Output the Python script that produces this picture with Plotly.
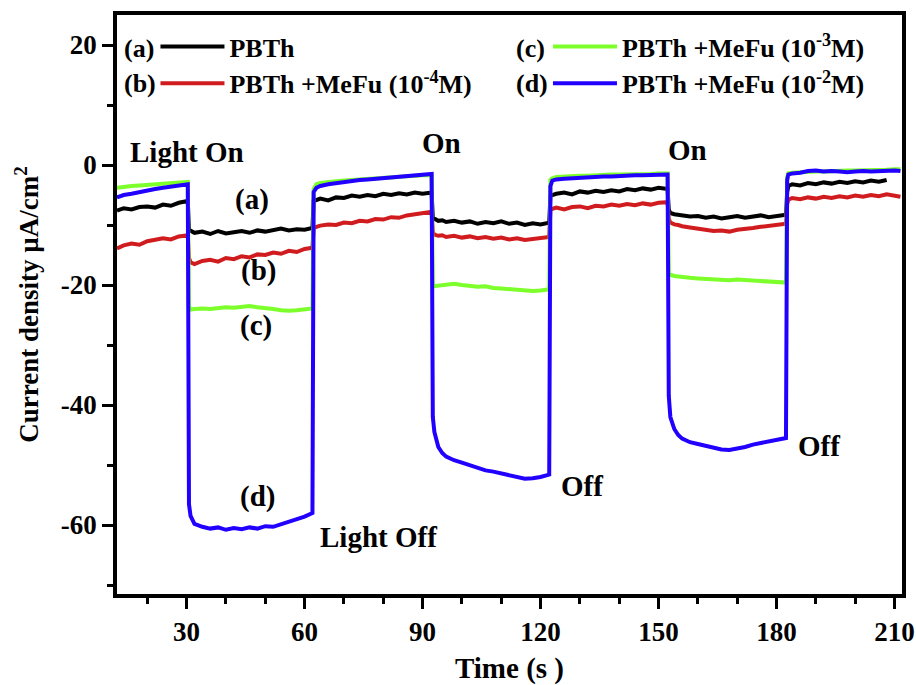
import plotly.graph_objects as go

# ---- data ----
time_s = [12.3, 14, 16, 18, 20, 22, 24, 26, 28, 30.3,
          30.6,
          31, 32, 34, 36, 38, 40, 42, 44, 46, 48, 50, 52, 54, 56, 58, 60, 62.0,
          62.3,
          63, 64, 66, 68, 70, 72, 74, 76, 78, 80, 82, 84, 86, 88, 90, 92.3,
          92.6,
          93, 94, 95, 96, 98, 100, 102, 104, 106, 108, 110, 112, 114, 116, 118, 120, 122.2,
          122.5,
          123, 124, 126, 128, 130, 132, 134, 136, 138, 140, 142, 144, 146, 148, 150, 152.3,
          152.6,
          153, 154, 155, 156, 158, 160, 162, 164, 166, 168, 170, 172, 174, 176, 178, 180, 182.4,
          182.7,
          183, 184, 186, 188, 190, 192, 194, 196, 198, 200, 202, 204, 206, 208, 210, 211.5]

pbth = [-7.6, -7.2, -7.4, -7.0, -6.9, -7.1, -6.6, -6.8, -6.3, -6.0,
        -10.8,
        -11.0, -11.3, -11.1, -11.5, -11.0, -11.4, -11.2, -11.0, -11.3, -10.9, -11.1, -10.8, -10.6, -10.9, -10.7, -10.8, -10.5,
        -6.0,
        -5.8, -5.6, -5.9, -5.4, -5.5, -5.1, -5.3, -5.0, -5.2, -4.8, -5.0, -4.7, -4.9, -4.6, -4.8, -4.6,
        -8.8,
        -9.0, -9.3, -9.2, -9.5, -9.3, -9.6, -9.4, -9.8, -9.5, -9.7, -9.4, -9.8, -9.6, -10.0, -9.7, -9.9, -9.6,
        -5.2,
        -5.0, -4.8, -4.6, -4.9, -4.4, -4.6, -4.3, -4.5, -4.2, -4.4, -4.0, -4.2, -3.9, -4.1, -3.8, -4.0,
        -7.5,
        -8.0, -8.2, -8.3, -8.4, -8.6, -8.5, -8.8, -8.6, -8.9, -8.7, -8.5, -8.8, -8.6, -8.4, -8.7, -8.5, -8.3,
        -4.5,
        -3.5, -3.2, -3.4, -3.0, -3.2, -2.9, -3.1, -2.8, -3.0, -2.7, -2.9, -2.6, -2.8, -2.5, None, None]

mefu_1e4 = [-13.9, -13.4, -13.1, -13.3, -12.7, -12.5, -12.2, -12.4, -11.9, -11.7,
            -15.5,
            -16.2, -16.5, -16.0, -15.8, -16.1, -15.5, -15.7, -15.2, -15.4, -14.9, -15.0, -14.6, -14.8, -14.3, -14.5, -14.0, -13.8,
            -10.5,
            -10.3, -10.1, -9.9, -10.0, -9.6, -9.7, -9.3, -9.4, -9.0, -9.1, -8.7, -8.8, -8.4, -8.2, -8.0, -7.8,
            -11.2,
            -11.6, -11.8, -11.7, -12.0, -11.8, -12.1, -11.9, -12.2, -12.0, -12.3, -12.1, -12.4, -12.2, -12.5, -12.3, -12.2, -12.0,
            -7.5,
            -7.3, -7.1, -7.4, -7.0, -6.9, -7.2, -6.8, -6.9, -6.6, -6.8, -6.5, -6.7, -6.4, -6.6, -6.3, -6.2,
            -9.0,
            -9.6, -9.9, -10.0, -10.2, -10.4, -10.6, -10.8, -11.0, -10.9, -11.1, -10.8, -10.7, -10.5, -10.3, -10.1, -10.0, -9.8,
            -6.5,
            -5.8, -5.5, -5.7, -5.4, -5.6, -5.3, -5.5, -5.2, -5.4, -5.1, -5.3, -5.0, -5.2, -4.9, -5.1, -5.3]

mefu_1e3 = [-3.8, -3.6, -3.5, -3.4, -3.3, -3.2, -3.1, -3.0, -2.9, -2.8,
            -23.6,
            -24.1, -24.0, -23.9, -24.0, -23.8, -23.7, -23.8, -23.6, -23.5, -23.7, -23.8, -24.0, -24.2, -24.3, -24.2, -24.1, -23.9,
            -4.0,
            -3.2, -3.0, -2.8, -2.7, -2.6, -2.5, -2.4, -2.3, -2.2, -2.1, -2.0, -1.9, -1.9, -1.8, -1.7, -1.7,
            -19.8,
            -20.2, -20.1, -20.0, -19.9, -19.8, -20.0, -20.1, -20.3, -20.2, -20.5, -20.6, -20.7, -20.8, -20.9, -21.0, -20.9, -20.7,
            -2.5,
            -2.2, -2.0, -1.9, -1.9, -1.8, -1.8, -1.7, -1.7, -1.6, -1.6, -1.6, -1.5, -1.5, -1.5, -1.4, -1.4,
            -18.2,
            -18.3, -18.5, -18.6, -18.7, -18.8, -18.9, -19.0, -19.0, -19.1, -19.2, -19.1, -19.2, -19.3, -19.4, -19.4, -19.5, -19.6,
            -2.0,
            -1.4, -1.3, -1.2, -1.2, -1.1, -1.1, -1.0, -1.0, -0.9, -0.9, -0.9, -0.8, -0.8, -0.8, -0.7, -0.7]

mefu_1e2 = [-5.4, -5.0, -4.8, -4.5, -4.2, -4.0, -3.8, -3.6, -3.4, -3.2,
            -56.5,
            -58.5, -59.8, -60.3, -60.6, -60.4, -60.8, -60.5, -60.7, -60.4, -60.6, -60.2, -60.3, -59.9, -59.5, -59.0, -58.6, -58.0,
            -4.5,
            -3.8, -3.5, -3.2, -3.0, -2.8, -2.7, -2.5, -2.4, -2.3, -2.1, -2.0, -1.9, -1.8, -1.7, -1.6, -1.5,
            -42.0,
            -44.5, -47.0, -48.0, -48.6, -49.2, -49.6, -50.0, -50.5, -50.9, -51.1, -51.4, -51.8, -52.0, -52.3, -52.2, -52.0, -51.6,
            -3.5,
            -2.6, -2.4, -2.3, -2.2, -2.1, -2.0, -2.0, -1.9, -1.9, -1.8, -1.8, -1.7, -1.7, -1.7, -1.6, -1.6,
            -38.5,
            -42.0, -44.0, -45.0, -45.6, -46.2, -46.5, -46.8, -47.1, -47.4, -47.5, -47.3, -47.0, -46.6, -46.3, -46.0, -45.8, -45.5,
            -2.5,
            -1.6, -1.4, -1.3, -1.0, -0.9, -1.1, -1.0, -1.1, -1.2, -1.1, -1.0, -1.1, -1.0, -0.9, -0.9, -1.0]

series_names = ["PBTh", "PBTh +MeFu (10<sup>-4</sup>M)",
                "PBTh +MeFu (10<sup>-3</sup>M)", "PBTh +MeFu (10<sup>-2</sup>M)"]
series_values = [pbth, mefu_1e4, mefu_1e3, mefu_1e2]
series_colors = ["#000000", "#d01c1f", "#7cff2a", "#2200ff"]
series_legend = ["legend", "legend", "legend2", "legend2"]
series_tags = ["(a)", "(b)", "(c)", "(d)"]

x_ticks = [30, 60, 90, 120, 150, 180, 210]
y_ticks = [20, 0, -20, -40, -60]
y_tick_labels = ["20", "0", "-20", "-40", "-60"]

# annotation texts and their positions (time, current)
notes = [("Light On", 30.0, 2.2), ("On", 94.7, 3.7), ("On", 157.3, 2.5),
         ("(a)", 46.7, -5.8), ("(b)", 48.2, -17.5), ("(c)", 47.7, -26.8),
         ("(d)", 47.9, -55.3), ("Light Off", 78.7, -62.0), ("Off", 130.6, -53.5),
         ("Off", 190.8, -46.8)]

FONT = "Liberation Serif"

fig = go.Figure()
for i, (name, vals, col, lg) in enumerate(zip(series_names, series_values, series_colors, series_legend)):
    fig.add_trace(go.Scatter(
        x=time_s, y=vals, mode="lines", name=name,
        line=dict(color=col, width=4),
        legend=lg, legendgroup=f"g{i}", connectgaps=False))

for txt, xv, yv in notes:
    fig.add_annotation(x=xv, y=yv, text=txt, showarrow=False,
                       font=dict(family=FONT, size=29, color="black", weight="bold"))

# legend prefixes (a)-(d)
tag_pos = [(0.007, 0.943), (0.007, 0.882), (0.506, 0.943), (0.506, 0.882)]
for tag, (px, py) in zip(series_tags, tag_pos):
    fig.add_annotation(xref="paper", yref="paper", x=px, y=py, text=tag,
                       showarrow=False, xanchor="left", yanchor="middle",
                       font=dict(family=FONT, size=26, color="black", weight="bold"))

legend_style = dict(font=dict(family=FONT, size=26, color="black", weight="bold"),
                    bgcolor="rgba(0,0,0,0)", borderwidth=0, orientation="v",
                    tracegroupgap=0, itemwidth=64, yanchor="top", xanchor="left")

fig.update_layout(
    width=916, height=685,
    margin=dict(l=117, r=14, t=15, b=91),
    paper_bgcolor="white", plot_bgcolor="white",
    font=dict(family=FONT, size=26, color="black", weight="bold"),
    showlegend=True,
    legend=dict(x=0.049, y=0.986, **legend_style),
    legend2=dict(x=0.549, y=0.986, **legend_style),
    xaxis=dict(range=[12.3, 211.9], tickvals=x_ticks, ticks="outside", ticklen=11,
               tickwidth=3, tickcolor="black", showline=True, linewidth=3.5,
               linecolor="black", mirror=True, showgrid=False, zeroline=False,
               automargin=False,
               tickfont=dict(family=FONT, size=27, weight="bold"),
               minor=dict(dtick=10, tick0=0, ticks="outside", ticklen=6, tickwidth=3,
                          tickcolor="black", showgrid=False),
               title=dict(text="Time (s )", font=dict(family=FONT, size=29, weight="bold"))),
    yaxis=dict(range=[-71.5, 25], tickvals=y_ticks, ticktext=y_tick_labels,
               ticks="outside", ticklen=11,
               tickwidth=3, tickcolor="black", showline=True, linewidth=3.5,
               linecolor="black", mirror=True, showgrid=False, zeroline=False,
               automargin=False,
               tickfont=dict(family=FONT, size=27, weight="bold"),
               minor=dict(dtick=10, tick0=0, ticks="outside", ticklen=6, tickwidth=3,
                          tickcolor="black", showgrid=False),
               title=dict(text="Current density µA/cm<sup>2</sup>",
                          font=dict(family=FONT, size=27, weight="bold"))),
)

# remove the page's default 8px body margin so the 916x685 figure fills the window
fig.write_html("out.html", config={"displayModeBar": False},
               post_script="document.body.style.margin='0';")
